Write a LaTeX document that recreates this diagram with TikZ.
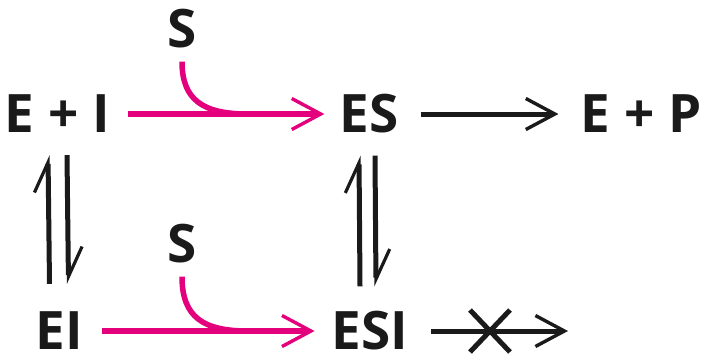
\documentclass[tikz,border=0pt]{standalone}
\usepackage{fontspec}
\setmainfont{Open Sans}[UprightFont=* Bold]
\usetikzlibrary{arrows.meta}
\definecolor{mag}{HTML}{E4007C}
\definecolor{ink}{HTML}{1A1A1A}
\tikzset{
  lbl/.style={inner sep=0pt, font=\fontsize{53}{60}\selectfont, text=ink},
  vee/.style={-{Straight Barb[length=29pt,width=31pt,line width=3.4pt]}},
  magline/.style={draw=mag, line width=5.5pt},
  blkline/.style={draw=ink, line width=5pt},
  harp/.style={draw=ink, line width=5pt, -{Straight Barb[left,length=30pt,width=28pt,line width=3.2pt]}},
}
\begin{document}
\begin{tikzpicture}[x=1pt,y=-1pt]
\useasboundingbox (0,0) rectangle (709,360);
% nodes
\node[lbl] (EIt) at (57.5,114) {E + I};
\node[lbl] (ES)  at (369,114) {ES};
\node[lbl] (EP)  at (641,114) {E + P};
\node[lbl] (S1)  at (182,29) {S};
\node[lbl] (EI)  at (59,331) {EI};
\node[lbl] (ESI) at (370,331) {ESI};
\node[lbl] (S2)  at (182,244) {S};
% top magenta arrow
\draw[magline, vee, shorten <=18pt, shorten >=15pt] (EIt.east) -- (ES.west);
\coordinate (j1) at (248,114);
\draw[magline, line cap=butt] ([yshift=-13pt]S1.south) .. controls (182,100) and (203,114) .. (j1);
% top black arrow
\draw[blkline, vee, shorten <=22pt, shorten >=22pt] (ES.east) -- (EP.west);
% bottom magenta arrow
\draw[magline, vee, shorten <=19pt, shorten >=17pt] (EI.east) -- (ESI.west);
\coordinate (j2) at (248,331);
\draw[magline, line cap=butt] ([yshift=-13pt]S2.south) .. controls (182,317) and (203,331) .. (j2);
% left equilibrium
\draw[harp] ([xshift=-9.5pt,yshift=28pt]EI.north) -- ([xshift=-9.5pt,yshift=-22pt]EIt.south);
\draw[harp] ([xshift=9.5pt,yshift=-22pt]EIt.south) -- ([xshift=9.5pt,yshift=28pt]EI.north);
% right equilibrium
\draw[harp] ([xshift=-10pt,yshift=25pt]ESI.north) -- ([xshift=-10pt,yshift=-22pt]ES.south);
\draw[harp] ([xshift=6pt,yshift=-22pt]ES.south) -- ([xshift=6pt,yshift=25pt]ESI.north);
% blocked arrow
\coordinate (xend) at (568,331);
\draw[blkline, vee, shorten <=23pt] (ESI.east) -- (xend);
\coordinate (xc) at (490,331);
\draw[blkline] ([shift={(-20,-21)}]xc) -- ([shift={(20,21)}]xc);
\draw[blkline] ([shift={(-20,21)}]xc) -- ([shift={(20,-21)}]xc);
\end{tikzpicture}
\end{document}
